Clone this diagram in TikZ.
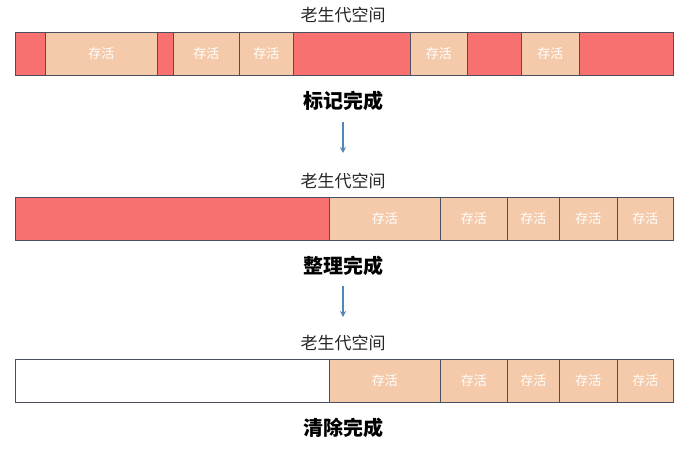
\documentclass[tikz,border=0pt]{standalone}
\usepackage{fontspec}
\setmainfont{Noto Sans CJK SC}
\usetikzlibrary{arrows.meta}

\definecolor{deadcol}{RGB}{248,112,112}
\definecolor{livecol}{RGB}{245,202,170}
\definecolor{edgecol}{RGB}{74,80,98}
\definecolor{flowcol}{RGB}{84,134,184}

\begin{document}
\begin{tikzpicture}[x=1pt,y=-1pt,
    seg/.style={draw=edgecol,line width=0.8pt,inner sep=0pt,minimum height=43pt,anchor=north west},
    dead/.style={seg,fill=deadcol},
    live/.style={seg,fill=livecol,text=white,font=\fontsize{13}{13}\selectfont},
    free/.style={seg,fill=white},
    title/.style={font=\fontsize{17}{17}\selectfont,text=black!85},
    donelabel/.style={font=\fontsize{20}{20}\selectfont\bfseries,text=black},
    flow/.style={draw=flowcol,line width=1.2pt,-{Stealth[length=6pt,width=6pt]}}]
  \useasboundingbox (0,0) rectangle (686,449);

  % marking done
  \node[title] (t1) at (343,15) {老生代空间};
  \foreach \a/\b/\k/\t [count=\i] in {15/45/dead/{},45/157/live/存活,157/173/dead/{},
      173/239/live/存活,239/293/live/存活,293/410/dead/{},410/467/live/存活,
      467/521/dead/{},521/579/live/存活,579/673/dead/{}}
    \node[\k,minimum width={(\b-\a)*1pt}] (m\i) at (\a,32) {\t};
  \node[donelabel] (d1) at (343,101) {标记完成};

  \coordinate (a1s) at (343,122);
  \coordinate (a1e) at (343,153);
  \draw[flow] (a1s) -- (a1e);

  % compacting done
  \node[title] (t2) at (343,181) {老生代空间};
  \foreach \a/\b/\k/\t [count=\i] in {15/329/dead/{},329/440/live/存活,440/507/live/存活,
      507/559/live/存活,559/617/live/存活,617/673/live/存活}
    \node[\k,minimum width={(\b-\a)*1pt}] (c\i) at (\a,197) {\t};
  \node[donelabel] (d2) at (343,266) {整理完成};

  \coordinate (a2s) at (343,286);
  \coordinate (a2e) at (343,317);
  \draw[flow] (a2s) -- (a2e);

  % sweeping done
  \node[title] (t3) at (343,343) {老生代空间};
  \foreach \a/\b/\k/\t [count=\i] in {15/329/free/{},329/440/live/存活,440/507/live/存活,
      507/559/live/存活,559/617/live/存活,617/673/live/存活}
    \node[\k,minimum width={(\b-\a)*1pt}] (s\i) at (\a,359) {\t};
  \node[donelabel] (d3) at (343,428) {清除完成};
\end{tikzpicture}
\end{document}
